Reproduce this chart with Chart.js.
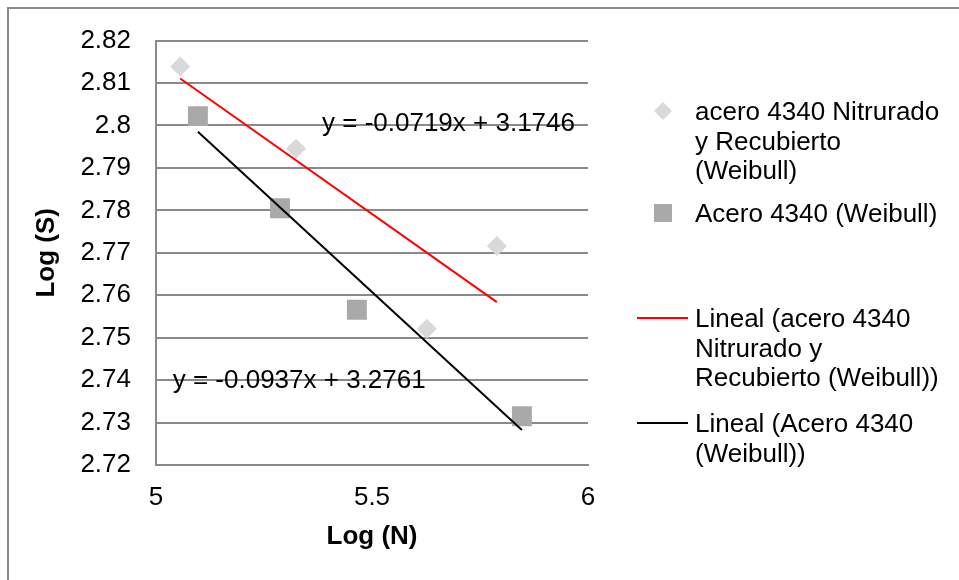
<!DOCTYPE html>
<html>
<head>
<meta charset="utf-8">
<script src="https://cdn.jsdelivr.net/npm/chart.js@4.4.1/dist/chart.umd.min.js"></script>
<style>
  html, body { margin: 0; padding: 0; background: #fff; overflow: hidden; }
  canvas { display: block; }
</style>
</head>
<body>
<canvas id="c" width="959" height="580"></canvas>
<script>
// ---- data ----
const seriesLabels = [
  'acero 4340 Nitrurado y Recubierto (Weibull)',
  'Acero 4340 (Weibull)',
  'Lineal (acero 4340 Nitrurado y Recubierto (Weibull))',
  'Lineal (Acero 4340 (Weibull))'
];
const nitruradoX = [5.056, 5.324, 5.627, 5.789];
const nitruradoY = [2.8139, 2.7945, 2.7521, 2.7716];
const aceroX = [5.097, 5.287, 5.465, 5.847];
const aceroY = [2.8022, 2.7805, 2.7566, 2.7315];
const trendSlopes = [-0.0719, -0.0937];
const trendIntercepts = [3.1746, 3.2761];
const xTickValues = [5, 5.5, 6];
const xTickLabels = ['5', '5.5', '6'];
const yTickValues = [2.72, 2.73, 2.74, 2.75, 2.76, 2.77, 2.78, 2.79, 2.8, 2.81, 2.82];
const yTickLabels = ['2.72', '2.73', '2.74', '2.75', '2.76', '2.77', '2.78', '2.79', '2.8', '2.81', '2.82'];
const xTitle = 'Log (N)';
const yTitle = 'Log (S)';

// ---- derived ----
const toPoints = (xs, ys) => xs.map((x, i) => ({ x: x, y: ys[i] }));
const trendPoints = (xs, k) => {
  const lo = Math.min(...xs), hi = Math.max(...xs);
  return [lo, hi].map(x => ({ x: x, y: trendSlopes[k] * x + trendIntercepts[k] }));
};
const equationText = k => 'y = ' + trendSlopes[k] + 'x + ' + trendIntercepts[k];

const FONT = "'Liberation Sans', Arial, sans-serif";
const FS = 26;
const GRID = '#8a8a8a';

const outerBorder = {
  id: 'outerBorder',
  beforeDraw(chart) {
    const ctx = chart.ctx;
    ctx.save();
    ctx.fillStyle = '#ffffff';
    ctx.fillRect(0, 0, chart.width, chart.height);
    ctx.strokeStyle = GRID;
    ctx.lineWidth = 2;
    ctx.strokeRect(8, 8, chart.width + 40, chart.height + 40);
    ctx.restore();
  }
};

const equations = {
  id: 'equations',
  afterDatasetsDraw(chart, args, opts) {
    const ctx = chart.ctx, xs = chart.scales.x, ys = chart.scales.y;
    ctx.save();
    ctx.font = FS + 'px ' + FONT;
    ctx.fillStyle = '#000';
    ctx.textAlign = 'left';
    ctx.textBaseline = 'alphabetic';
    opts.items.forEach(it => {
      ctx.fillText(equationText(it.k), xs.getPixelForValue(it.x), ys.getPixelForValue(it.y));
    });
    ctx.restore();
  }
};

function wrapText(ctx, text, maxW) {
  const words = text.split(' ');
  const lines = [];
  let cur = '';
  words.forEach(w => {
    const t = cur ? cur + ' ' + w : w;
    if (ctx.measureText(t).width > maxW && cur) { lines.push(cur); cur = w; }
    else cur = t;
  });
  if (cur) lines.push(cur);
  return lines;
}

const sideLegend = {
  id: 'sideLegend',
  afterDraw(chart, args, opts) {
    const ctx = chart.ctx;
    ctx.save();
    ctx.font = FS + 'px ' + FONT;
    ctx.textAlign = 'left';
    ctx.textBaseline = 'alphabetic';
    opts.items.forEach(it => {
      const ds = chart.data.datasets[it.dataset];
      const y0 = it.y;
      if (ds.showLine) {
        ctx.strokeStyle = ds.borderColor;
        ctx.lineWidth = ds.borderWidth;
        ctx.beginPath();
        ctx.moveTo(opts.lineX0, y0);
        ctx.lineTo(opts.lineX1, y0);
        ctx.stroke();
      } else {
        ctx.fillStyle = ds.backgroundColor;
        const h = opts.markerHalf;
        ctx.beginPath();
        if (ds.pointStyle === 'rectRot') {
          ctx.moveTo(opts.markerX - h, y0);
          ctx.lineTo(opts.markerX, y0 - h);
          ctx.lineTo(opts.markerX + h, y0);
          ctx.lineTo(opts.markerX, y0 + h);
          ctx.closePath();
        } else {
          ctx.rect(opts.markerX - h, y0 - h, 2 * h, 2 * h);
        }
        ctx.fill();
      }
      ctx.fillStyle = '#000';
      const lines = wrapText(ctx, ds.label, opts.maxWidth);
      lines.forEach((l, i) => ctx.fillText(l, opts.textX, y0 + opts.baselineShift + i * opts.lineHeight));
    });
    ctx.restore();
  }
};

new Chart(document.getElementById('c'), {
  type: 'scatter',
  data: {
    datasets: [
      {
        label: seriesLabels[0],
        data: toPoints(nitruradoX, nitruradoY),
        pointStyle: 'rectRot',
        pointRadius: 10,
        pointHoverRadius: 10,
        backgroundColor: '#d9d9d9',
        borderWidth: 0,
        showLine: false,
        order: 2
      },
      {
        label: seriesLabels[1],
        data: toPoints(aceroX, aceroY),
        pointStyle: 'rect',
        pointRadius: 14.1,
        pointHoverRadius: 14.1,
        backgroundColor: '#a9a9a9',
        borderWidth: 0,
        showLine: false,
        order: 2
      },
      {
        label: seriesLabels[2],
        data: trendPoints(nitruradoX, 0),
        showLine: true,
        borderColor: '#ff0000',
        borderWidth: 2,
        pointRadius: 0,
        fill: false,
        order: 1
      },
      {
        label: seriesLabels[3],
        data: trendPoints(aceroX, 1),
        showLine: true,
        borderColor: '#000000',
        borderWidth: 2,
        pointRadius: 0,
        fill: false,
        order: 1
      }
    ]
  },
  options: {
    responsive: false,
    animation: false,
    devicePixelRatio: 1,
    layout: { padding: { left: 0, right: 371, top: 37, bottom: 0 } },
    plugins: {
      legend: { display: false },
      tooltip: { enabled: false },
      equations: {
        items: [
          { k: 0, x: 5.3843, y: 2.7987 },
          { k: 1, x: 5.0387, y: 2.7382 }
        ]
      },
      sideLegend: {
        markerX: 663,
        markerHalf: 9,
        lineX0: 637,
        lineX1: 688,
        textX: 695,
        maxWidth: 252,
        lineHeight: 29.5,
        baselineShift: 9,
        items: [
          { dataset: 0, y: 111 },
          { dataset: 1, y: 213 },
          { dataset: 2, y: 318 },
          { dataset: 3, y: 423 }
        ]
      }
    },
    scales: {
      x: {
        type: 'linear',
        position: 'bottom',
        min: 5,
        max: 6,
        afterBuildTicks: s => { s.ticks = xTickValues.map(v => ({ value: v })); },
        afterFit: s => { s.height = 115; },
        grid: { display: false, drawTicks: false },
        border: { display: true, color: GRID, width: 2 },
        ticks: {
          color: '#000',
          font: { family: FONT, size: FS },
          padding: 17,
          maxRotation: 0,
          callback: (v, i) => xTickLabels[i]
        },
        title: {
          display: true,
          text: xTitle,
          color: '#000',
          font: { family: FONT, size: FS, weight: 'bold' },
          padding: { top: 0, bottom: 28 }
        }
      },
      y: {
        type: 'linear',
        min: 2.72,
        max: 2.82,
        afterBuildTicks: s => { s.ticks = yTickValues.map(v => ({ value: v })); },
        afterFit: s => { s.width = 156; },
        grid: { color: GRID, lineWidth: 2, drawTicks: false },
        border: { display: true, color: GRID, width: 2 },
        ticks: {
          color: '#000',
          font: { family: FONT, size: FS },
          padding: 25,
          callback: (v, i) => yTickLabels[i]
        },
        title: {
          display: true,
          text: yTitle,
          color: '#000',
          font: { family: FONT, size: FS, weight: 'bold' },
          padding: { top: 31, bottom: 0 }
        }
      }
    }
  },
  plugins: [outerBorder, equations, sideLegend]
});
</script>
</body>
</html>
